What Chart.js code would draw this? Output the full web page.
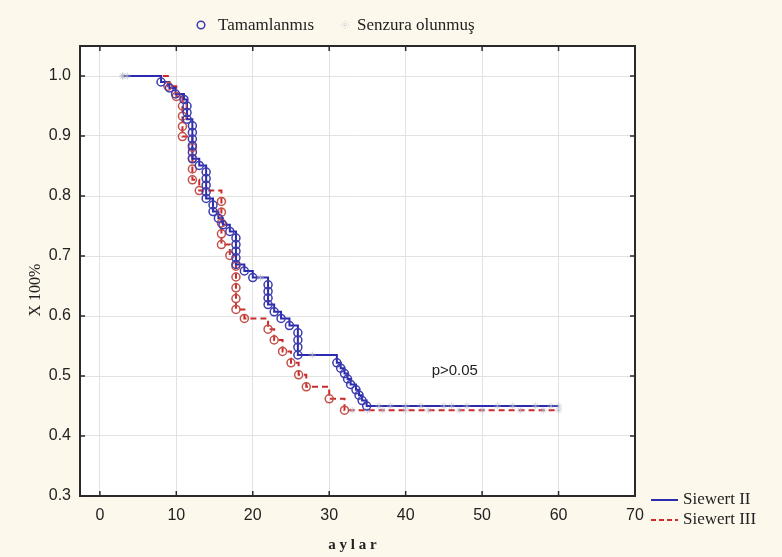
<!DOCTYPE html>
<html>
<head>
<meta charset="utf-8">
<script src="https://cdn.jsdelivr.net/npm/chart.js@4"></script>
<style>
  html, body { margin: 0; padding: 0; background: #fcf8ec; }
  #wrap { width: 782px; height: 557px; }
</style>
</head>
<body>
<div id="wrap"><canvas id="kmChart" width="782" height="557"></canvas></div>
<script>
// Data (months, survival fraction)
const xTicks = [0, 10, 20, 30, 40, 50, 60, 70];
const yTicks = [0.3, 0.4, 0.5, 0.6, 0.7, 0.8, 0.9, 1.0];

// Siewert II - completed (event) observations
const s2Times = [8.0, 9.1, 9.9, 11.0, 11.4, 11.4, 11.4, 12.1, 12.1, 12.1, 12.1, 12.1, 12.1,
  13.0, 13.9, 13.9, 13.9, 13.9, 13.9, 14.8, 14.8, 15.5, 16.1, 17.0, 17.8, 17.8, 17.8, 17.8, 17.8,
  18.9, 20.0, 22.0, 22.0, 22.0, 22.0, 22.8, 23.7, 24.8, 25.9, 25.9, 25.9, 25.9,
  31.0, 31.5, 32.0, 32.4, 32.8, 33.5, 33.9, 34.3, 34.9];
const s2Surv = [0.99, 0.98, 0.97, 0.961, 0.95, 0.939, 0.928, 0.917, 0.906, 0.895, 0.884, 0.873, 0.862,
  0.851, 0.840, 0.829, 0.818, 0.807, 0.796, 0.785, 0.774, 0.763, 0.752, 0.741, 0.730, 0.719, 0.708, 0.697, 0.686,
  0.675, 0.664, 0.652, 0.641, 0.630, 0.619, 0.607, 0.596, 0.584, 0.572, 0.560, 0.548, 0.535,
  0.522, 0.513, 0.504, 0.495, 0.486, 0.477, 0.468, 0.459, 0.450];
// Siewert II - censored observations
const s2CensTimes = [3.0, 21.0, 27.8, 36.5, 38, 40, 42, 45, 46, 48, 52, 54, 57, 59, 60];
const s2CensSurv = [1.0, 0.664, 0.535, 0.45, 0.45, 0.45, 0.45, 0.45, 0.45, 0.45, 0.45, 0.45, 0.45, 0.45, 0.45];

// Siewert III - completed (event) observations
const s3Times = [8.9, 10.0, 10.8, 10.8, 10.8, 10.8, 12.1, 12.1, 12.1, 12.1, 13.0,
  15.9, 15.9, 15.9, 15.9, 15.9, 17.0, 17.8, 17.8, 17.8, 17.8, 17.8, 18.9,
  22.0, 22.8, 23.9, 25.0, 26.0, 27.0, 30.0, 32.0];
const s3Surv = [0.983, 0.966, 0.95, 0.933, 0.916, 0.899, 0.881, 0.863, 0.845, 0.827, 0.809,
  0.791, 0.773, 0.755, 0.737, 0.719, 0.701, 0.683, 0.665, 0.647, 0.629, 0.611, 0.596,
  0.578, 0.560, 0.541, 0.522, 0.502, 0.482, 0.462, 0.443];
// Siewert III - censored observations
const s3CensTimes = [3.0, 3.6, 33, 35, 37, 40, 43, 47, 50, 55, 58, 60];
const s3CensSurv = [1.0, 1.0, 0.443, 0.443, 0.443, 0.443, 0.443, 0.443, 0.443, 0.443, 0.443, 0.443];

const pLabel = 'p>0.05';
const pPos = [43.4, 0.508];

const BLUE = '#2b2bb0';
const RED = '#cc2a2a';
const BLUE_MK = '#3c3cae';
const RED_MK = '#c4504a';
const CENS = 'rgba(175,175,195,0.55)';

function pts(xs, ys) {
  return xs.map((x, i) => ({ x: x, y: ys[i] }));
}

// step line through events and censored points, in time order
function curve(tx, ty, cx, cy) {
  const all = pts(tx, ty).concat(pts(cx, cy));
  all.sort((a, b) => a.x - b.x || b.y - a.y);
  return all;
}

const framePlugin = {
  id: 'frame',
  beforeDraw(chart) {
    const { ctx, chartArea: a } = chart;
    ctx.save();
    ctx.fillStyle = '#fcf8ec';
    ctx.fillRect(0, 0, chart.width, chart.height);
    ctx.fillStyle = '#ffffff';
    ctx.fillRect(a.left, a.top, a.right - a.left, a.bottom - a.top);
    ctx.restore();
  },
  afterDraw(chart) {
    const { ctx, chartArea: a } = chart;
    const xs = chart.scales.x, ys = chart.scales.y;
    ctx.save();

    // plot frame
    ctx.strokeStyle = '#2a2a2a';
    ctx.lineWidth = 2;
    ctx.strokeRect(a.left, a.top, a.right - a.left, a.bottom - a.top);

    // inner tick marks on all four sides
    ctx.lineWidth = 1.5;
    ctx.beginPath();
    xTicks.forEach(v => {
      const px = xs.getPixelForValue(v);
      ctx.moveTo(px, a.bottom); ctx.lineTo(px, a.bottom - 5);
      ctx.moveTo(px, a.top); ctx.lineTo(px, a.top + 5);
    });
    yTicks.forEach(v => {
      const py = ys.getPixelForValue(v);
      ctx.moveTo(a.left, py); ctx.lineTo(a.left + 5, py);
      ctx.moveTo(a.right, py); ctx.lineTo(a.right - 5, py);
    });
    ctx.stroke();

    // p value note
    ctx.fillStyle = '#222';
    ctx.font = '15px "Liberation Sans", Arial, sans-serif';
    ctx.textAlign = 'left';
    ctx.textBaseline = 'middle';
    ctx.fillText(pLabel, xs.getPixelForValue(pPos[0]), ys.getPixelForValue(pPos[1]));

    // axis titles
    ctx.font = 'bold 15px "Liberation Serif", "Times New Roman", serif';
    ctx.textAlign = 'center';
    ctx.fillText('a y l a r', (a.left + a.right) / 2 - 5, 545);
    ctx.save();
    ctx.translate(36, 290);
    ctx.rotate(-Math.PI / 2);
    ctx.font = '16px "Liberation Serif", "Times New Roman", serif';
    ctx.fillText('X 100%', 0, 0);
    ctx.restore();

    // top legend
    ctx.font = '17px "Liberation Serif", "Times New Roman", serif';
    ctx.textAlign = 'left';
    ctx.strokeStyle = BLUE_MK;
    ctx.lineWidth = 1.5;
    ctx.beginPath();
    ctx.arc(201, 25, 3.8, 0, Math.PI * 2);
    ctx.stroke();
    ctx.fillStyle = '#222';
    ctx.fillText('Tamamlanmıs', 218, 26);
    drawStar(ctx, 345, 25, 4.5);
    ctx.fillText('Senzura olunmuş', 357, 26);

    // bottom right legend
    ctx.lineWidth = 2;
    ctx.strokeStyle = BLUE;
    ctx.beginPath();
    ctx.moveTo(651, 500); ctx.lineTo(678, 500);
    ctx.stroke();
    ctx.strokeStyle = RED;
    ctx.setLineDash([5, 3]);
    ctx.beginPath();
    ctx.moveTo(651, 520); ctx.lineTo(678, 520);
    ctx.stroke();
    ctx.setLineDash([]);
    ctx.fillText('Siewert II', 683, 500);
    ctx.fillText('Siewert III', 683, 520);

    ctx.restore();
  }
};

function drawStar(ctx, x, y, r) {
  ctx.save();
  ctx.strokeStyle = CENS;
  ctx.lineWidth = 1;
  ctx.setLineDash([1, 1.5]);
  ctx.beginPath();
  for (let i = 0; i < 4; i++) {
    const ang = i * Math.PI / 4;
    ctx.moveTo(x - r * Math.cos(ang), y - r * Math.sin(ang));
    ctx.lineTo(x + r * Math.cos(ang), y + r * Math.sin(ang));
  }
  ctx.stroke();
  ctx.restore();
}

const ctx = document.getElementById('kmChart').getContext('2d');
const kmChart = new Chart(ctx, {
  type: 'scatter',
  data: {
    datasets: [
      {
        label: 'Siewert II events',
        data: pts(s2Times, s2Surv),
        showLine: false,
        pointStyle: 'circle',
        pointRadius: 4,
        pointBorderWidth: 1.5,
        pointBorderColor: BLUE_MK,
        pointBackgroundColor: 'rgba(0,0,0,0)',
        order: 0
      },
      {
        label: 'Siewert III events',
        data: pts(s3Times, s3Surv),
        showLine: false,
        pointStyle: 'circle',
        pointRadius: 4,
        pointBorderWidth: 1.5,
        pointBorderColor: RED_MK,
        pointBackgroundColor: 'rgba(0,0,0,0)',
        order: 1
      },
      {
        label: 'censored',
        data: pts(s2CensTimes, s2CensSurv).concat(pts(s3CensTimes, s3CensSurv)),
        showLine: false,
        pointStyle: 'star',
        pointRadius: 3.5,
        pointBorderWidth: 1,
        pointBorderColor: CENS,
        order: 2
      },
      {
        label: 'Siewert II',
        data: curve(s2Times, s2Surv, s2CensTimes, s2CensSurv),
        showLine: true,
        stepped: true,
        borderColor: BLUE,
        borderWidth: 2,
        pointRadius: 0,
        order: 3
      },
      {
        label: 'Siewert III',
        data: curve(s3Times, s3Surv, s3CensTimes, s3CensSurv),
        showLine: true,
        stepped: true,
        borderColor: RED,
        borderWidth: 2,
        borderDash: [6, 4],
        pointRadius: 0,
        order: 4
      }
    ]
  },
  options: {
    responsive: false,
    animation: false,
    layout: { padding: { left: 0, right: 147, top: 46, bottom: 0 } },
    scales: {
      x: {
        type: 'linear',
        min: -2.6,
        max: 70,
        afterFit: s => { s.height = 61; },
        afterBuildTicks: s => { s.ticks = xTicks.map(v => ({ value: v })); },
        grid: { color: '#e2e2e2', lineWidth: 1, drawTicks: false },
        border: { display: false },
        ticks: {
          padding: 10,
          color: '#222',
          font: { family: '"Liberation Sans", Arial, sans-serif', size: 16 },
          callback: v => String(v)
        }
      },
      y: {
        type: 'linear',
        min: 0.3,
        max: 1.05,
        afterFit: s => { s.width = 80; },
        afterBuildTicks: s => { s.ticks = yTicks.map(v => ({ value: v })); },
        grid: { color: '#e2e2e2', lineWidth: 1, drawTicks: false },
        border: { display: false },
        ticks: {
          padding: 9,
          color: '#222',
          font: { family: '"Liberation Sans", Arial, sans-serif', size: 16 },
          callback: v => v.toFixed(1)
        }
      }
    },
    plugins: {
      legend: { display: false },
      tooltip: { enabled: false }
    }
  },
  plugins: [framePlugin]
});
</script>
</body>
</html>
